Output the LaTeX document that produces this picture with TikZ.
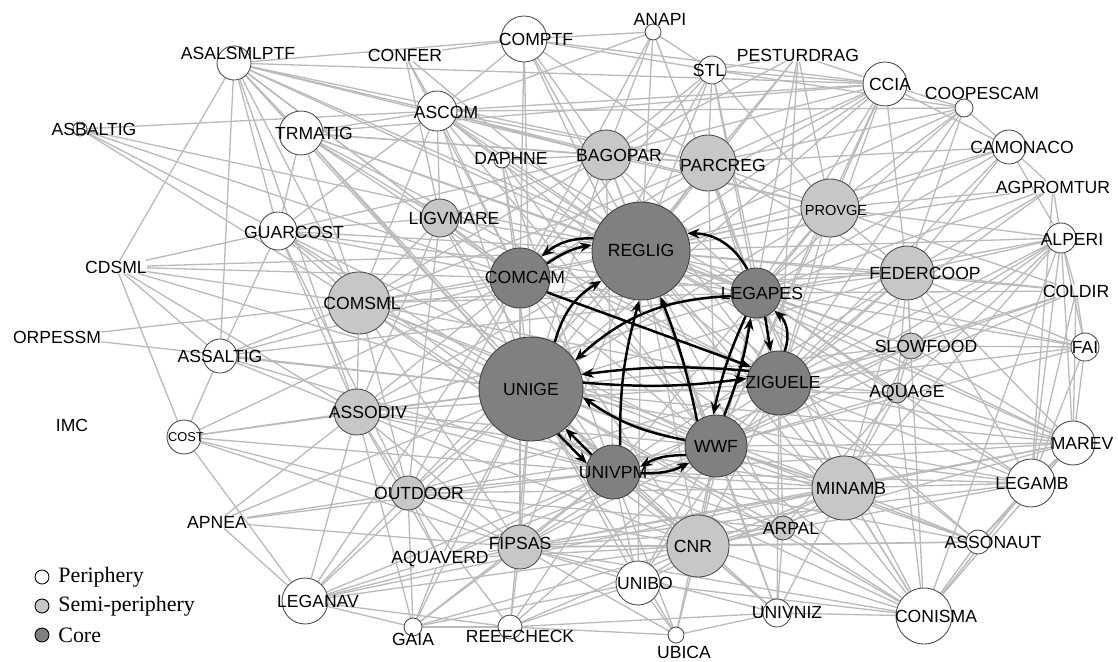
\documentclass[tikz,border=0pt]{standalone}
\usepackage{fontspec}
\setmainfont{Liberation Serif}
\setsansfont{Liberation Sans}
\usetikzlibrary{arrows.meta}
\usetikzlibrary{backgrounds}

\tikzset{
  peri/.style={draw=black!70, fill=white, circle, inner sep=0pt, line width=0.5pt},
  semi/.style={peri, fill=black!22},
  core/.style={peri, fill=black!50, draw=black!75},
  lbl/.style={font=\sffamily\fontsize{10}{12}\selectfont, inner sep=0pt, text=black},
  edge/.style={draw=black!27, line width=0.75pt},
  carrow/.style={-{Stealth[length=7pt,width=5.5pt]}, line width=1.4pt},
}

\begin{document}
\begin{tikzpicture}[x=0.02cm, y=-0.02cm]
\useasboundingbox (0,0) rectangle (1118,662);

% periphery
\node[peri, minimum size=0.68cm] at (234,63) (ASALSMLPTF) {};
\node[peri, minimum size=0.28cm] at (80,129) (ASBALTIG) {};
\node[peri, minimum size=0.88cm] at (301,133) (TRMATIG) {};
\node[peri, minimum size=0.92cm] at (524,39) (COMPTF) {};
\node[peri, minimum size=0.32cm] at (653,32) (ANAPI) {};
\node[peri, minimum size=0.56cm] at (712,70) (STL) {};
\node[peri, minimum size=0.88cm] at (885,84) (CCIA) {};
\node[peri, minimum size=0.36cm] at (964,108) (COOPESCAM) {};
\node[peri, minimum size=0.68cm] at (1009,147) (CAMONACO) {};
\node[peri, minimum size=0.60cm] at (1061,238) (ALPERI) {};
\node[peri, minimum size=0.80cm] at (437,111) (ASCOM) {};
\node[peri, minimum size=0.32cm] at (502,160) (DAPHNE) {};
\node[peri, minimum size=0.76cm] at (278,231) (GUARCOST) {};
\node[peri, minimum size=0.68cm] at (220,356) (ASSALTIG) {};
\node[peri, minimum size=0.68cm] at (184,437) (COST) {};
\node[peri, minimum size=0.56cm] at (1085,347) (FAI) {};
\node[peri, minimum size=0.88cm] at (1073,443) (MAREV) {};
\node[peri, minimum size=0.96cm] at (1031,483) (LEGAMB) {};
\node[peri, minimum size=0.48cm] at (978,542) (ASSONAUT) {};
\node[peri, minimum size=1.12cm] at (924,616) (CONISMA) {};
\node[peri, minimum size=0.56cm] at (777,613) (UNIVNIZ) {};
\node[peri, minimum size=0.32cm] at (676,635) (UBICA) {};
\node[peri, minimum size=0.88cm] at (638,583) (UNIBO) {};
\node[peri, minimum size=0.48cm] at (510,627) (REEFCHECK) {};
\node[peri, minimum size=0.36cm] at (413,627) (GAIA) {};
\node[peri, minimum size=0.92cm] at (305,601) (LEGANAV) {};

% semi-periphery
\node[semi, minimum size=1.00cm] at (606,155) (BAGOPAR) {};
\node[semi, minimum size=1.12cm] at (708,163) (PARCREG) {};
\node[semi, minimum size=1.16cm] at (830,208) (PROVGE) {};
\node[semi, minimum size=0.76cm] at (440,218) (LIGVMARE) {};
\node[semi, minimum size=1.08cm] at (907,273) (FEDERCOOP) {};
\node[semi, minimum size=1.24cm] at (359,303) (COMSML) {};
\node[semi, minimum size=0.92cm] at (357,412) (ASSODIV) {};
\node[semi, minimum size=0.52cm] at (911,346) (SLOWFOOD) {};
\node[semi, minimum size=0.40cm] at (897,393) (AQUAGE) {};
\node[semi, minimum size=0.68cm] at (408,493) (OUTDOOR) {};
\node[semi, minimum size=0.88cm] at (520,547) (FIPSAS) {};
\node[semi, minimum size=1.24cm] at (698,546) (CNR) {};
\node[semi, minimum size=1.28cm] at (844,488) (MINAMB) {};
\node[semi, minimum size=0.48cm] at (783,528) (ARPAL) {};

% core
\node[core, minimum size=1.96cm] at (641,251) (REGLIG) {};
\node[core, minimum size=1.20cm] at (520,278) (COMCAM) {};
\node[core, minimum size=1.00cm] at (756,293) (LEGAPES) {};
\node[core, minimum size=2.08cm] at (531,389) (UNIGE) {};
\node[core, minimum size=1.28cm] at (779,383) (ZIGUELE) {};
\node[core, minimum size=1.24cm] at (716,446) (WWF) {};
\node[core, minimum size=1.08cm] at (613,472) (UNIVPM) {};

% actors without circle
\node[lbl] at (405,55) (CONFER) {CONFER};
\node[lbl] at (798,55) (PESTURDRAG) {PESTURDRAG};
\node[lbl] at (1053,187) (AGPROMTUR) {AGPROMTUR};
\node[lbl] at (1076,291) (COLDIR) {COLDIR};
\node[lbl] at (116,267) (CDSML) {CDSML};
\node[lbl] at (57,337) (ORPESSM) {ORPESSM};
\node[lbl] at (72,425) (IMC) {IMC};
\node[lbl] at (217,522) (APNEA) {APNEA};
\node[lbl] at (440,559) (AQUAVERD) {AQUAVERD};

% ties
\begin{pgfonlayer}{background}
\foreach \s/\tl in {
REGLIG/{ASALSMLPTF,CONFER,COMPTF,ANAPI,STL,PESTURDRAG,CCIA,COOPESCAM,CAMONACO,AGPROMTUR,ALPERI,TRMATIG,ASCOM,DAPHNE,BAGOPAR,PARCREG,PROVGE,LIGVMARE,GUARCOST,FEDERCOOP,COLDIR,COMSML,SLOWFOOD,FAI,AQUAGE,ASSODIV,MAREV,MINAMB,LEGAMB,ARPAL,FIPSAS,CNR,UNIBO,CONISMA,UNIVNIZ,OUTDOOR,ASSONAUT,ASBALTIG,CDSML},
UNIGE/{ASALSMLPTF,TRMATIG,ASCOM,COMPTF,DAPHNE,BAGOPAR,PARCREG,LIGVMARE,GUARCOST,COMSML,ASSALTIG,CDSML,ASSODIV,COST,OUTDOOR,APNEA,FIPSAS,AQUAVERD,LEGANAV,GAIA,REEFCHECK,CNR,UNIBO,UBICA,ARPAL,MINAMB,CONISMA,UNIVNIZ,PROVGE,FEDERCOOP,SLOWFOOD,AQUAGE,MAREV,LEGAMB,CCIA,STL,ORPESSM,ASSONAUT},
ZIGUELE/{PARCREG,PROVGE,CCIA,COOPESCAM,CAMONACO,AGPROMTUR,ALPERI,FEDERCOOP,COLDIR,SLOWFOOD,FAI,AQUAGE,MAREV,LEGAMB,MINAMB,ASSONAUT,CONISMA,ARPAL,CNR,UNIVNIZ,BAGOPAR,PESTURDRAG,STL,ASSODIV,COMSML,FIPSAS,OUTDOOR,UNIBO,ASCOM,TRMATIG,LIGVMARE},
LEGAPES/{PARCREG,PROVGE,CCIA,COOPESCAM,CAMONACO,AGPROMTUR,ALPERI,FEDERCOOP,COLDIR,FAI,SLOWFOOD,MAREV,LEGAMB,MINAMB,CONISMA,CNR,BAGOPAR,PESTURDRAG,STL,ANAPI,ASCOM,TRMATIG,COMSML,ASSODIV,ASSALTIG,ASALSMLPTF,GUARCOST,AQUAGE},
WWF/{BAGOPAR,PARCREG,PROVGE,FEDERCOOP,SLOWFOOD,AQUAGE,MAREV,LEGAMB,MINAMB,ARPAL,CNR,UNIBO,UBICA,UNIVNIZ,CONISMA,ASSONAUT,FIPSAS,OUTDOOR,ASSODIV,COMSML,LIGVMARE,DAPHNE,ASCOM,COMPTF,ALPERI,COLDIR,FAI,CCIA,GUARCOST,AQUAVERD,REEFCHECK},
UNIVPM/{COMSML,ASSODIV,OUTDOOR,FIPSAS,AQUAVERD,LEGANAV,GAIA,REEFCHECK,UNIBO,UBICA,CNR,ARPAL,MINAMB,CONISMA,UNIVNIZ,ASSONAUT,LEGAMB,MAREV,BAGOPAR,DAPHNE,LIGVMARE,GUARCOST,ASSALTIG,COST,APNEA,TRMATIG,PROVGE,FEDERCOOP,SLOWFOOD},
COMCAM/{ASALSMLPTF,TRMATIG,ASCOM,CONFER,COMPTF,DAPHNE,BAGOPAR,PARCREG,LIGVMARE,GUARCOST,COMSML,ASSODIV,OUTDOOR,FIPSAS,CNR,MINAMB,PROVGE,FEDERCOOP,CCIA,ASBALTIG,ASSALTIG,CDSML,COST,LEGANAV,STL,ANAPI},
COMSML/{ASALSMLPTF,TRMATIG,GUARCOST,CDSML,ORPESSM,ASSALTIG,ASSODIV,LIGVMARE,ASCOM,FIPSAS,OUTDOOR,CNR,MINAMB,BAGOPAR,PARCREG,FEDERCOOP,ASBALTIG},
ASSODIV/{ASSALTIG,COST,CDSML,OUTDOOR,FIPSAS,LEGANAV,GAIA,AQUAVERD,APNEA,CNR,MINAMB,LIGVMARE,GUARCOST,ASALSMLPTF},
OUTDOOR/{COST,APNEA,LEGANAV,GAIA,AQUAVERD,FIPSAS,CNR,ARPAL,MINAMB,LIGVMARE,GUARCOST,REEFCHECK},
FIPSAS/{APNEA,LEGANAV,GAIA,REEFCHECK,AQUAVERD,UNIBO,UBICA,CNR,ARPAL,MINAMB,CONISMA,LEGAMB,MAREV,ASSONAUT,UNIVNIZ,COST},
CNR/{UNIBO,UBICA,REEFCHECK,UNIVNIZ,CONISMA,ASSONAUT,ARPAL,MINAMB,LEGAMB,MAREV,GAIA,LEGANAV,AQUAVERD},
MINAMB/{ARPAL,CONISMA,LEGAMB,MAREV,ASSONAUT,UNIVNIZ,UNIBO,FEDERCOOP,SLOWFOOD,AQUAGE,ALPERI,LEGANAV},
BAGOPAR/{ASALSMLPTF,TRMATIG,ASCOM,COMPTF,ANAPI,STL,PESTURDRAG,CCIA,DAPHNE,LIGVMARE,GUARCOST,PARCREG,PROVGE},
PARCREG/{COMPTF,STL,PESTURDRAG,CCIA,COOPESCAM,ASCOM,TRMATIG,PROVGE,FEDERCOOP,CAMONACO,ASALSMLPTF},
PROVGE/{CCIA,COOPESCAM,CAMONACO,AGPROMTUR,ALPERI,FEDERCOOP,PESTURDRAG,STL,COLDIR,ASCOM},
FEDERCOOP/{CCIA,COOPESCAM,CAMONACO,AGPROMTUR,ALPERI,COLDIR,FAI,SLOWFOOD,MAREV,LEGAMB,CONISMA,AQUAGE},
LIGVMARE/{ASALSMLPTF,TRMATIG,ASCOM,GUARCOST,CONFER},
ASALSMLPTF/{CDSML,ASSALTIG,GUARCOST,ASCOM,COMPTF,TRMATIG,CCIA},
ASBALTIG/{ASCOM,GUARCOST},
CDSML/{ASSALTIG,COST,GUARCOST},
ASSALTIG/{COST,GUARCOST},
COST/{LEGANAV},
APNEA/{LEGANAV},
LEGANAV/{GAIA,AQUAVERD,REEFCHECK},
GAIA/{REEFCHECK,AQUAVERD,UNIBO},
REEFCHECK/{UBICA,UNIBO,UNIVNIZ},
UBICA/{UNIBO,UNIVNIZ},
UNIVNIZ/{CONISMA,ARPAL},
CONISMA/{ASSONAUT,LEGAMB,MAREV,ARPAL,UNIBO,ALPERI},
ASSONAUT/{LEGAMB,MAREV},
LEGAMB/{MAREV,ALPERI,FAI,COLDIR,AGPROMTUR},
MAREV/{ALPERI,FAI,COLDIR,SLOWFOOD,AQUAGE},
FAI/{ALPERI,SLOWFOOD,COLDIR},
ALPERI/{AGPROMTUR,CAMONACO,COLDIR,SLOWFOOD,AQUAGE},
CAMONACO/{COOPESCAM,CCIA,AGPROMTUR},
COOPESCAM/{CCIA,STL,ASCOM},
CCIA/{STL,PESTURDRAG,ASCOM,COMPTF,TRMATIG},
STL/{ANAPI,PESTURDRAG,COMPTF},
ANAPI/{COMPTF,ASCOM},
COMPTF/{ASCOM,CONFER},
ASCOM/{CONFER,TRMATIG,GUARCOST,DAPHNE},
TRMATIG/{GUARCOST},
SLOWFOOD/{AQUAGE,COLDIR},
AQUAGE/{ARPAL,CONISMA}}
{
  \foreach \t in \tl {\draw[edge] (\s) -- (\t);}
}
\end{pgfonlayer}

% labels
\node[lbl] at (238,53) (tASALSMLPTF) {ASALSMLPTF};
\node[lbl] at (94,129) (tASBALTIG) {ASBALTIG};
\node[lbl] at (314,133) (tTRMATIG) {TRMATIG};
\node[lbl] at (536,39) (tCOMPTF) {COMPTF};
\node[lbl] at (660,19) (tANAPI) {ANAPI};
\node[lbl] at (709,70) (tSTL) {STL};
\node[lbl] at (890,84) (tCCIA) {CCIA};
\node[lbl] at (982,93) (tCOOPESCAM) {COOPESCAM};
\node[lbl] at (1022,147) (tCAMONACO) {CAMONACO};
\node[lbl] at (1072,239) (tALPERI) {ALPERI};
\node[lbl] at (446,112) (tASCOM) {ASCOM};
\node[lbl] at (511,158) (tDAPHNE) {DAPHNE};
\node[lbl] at (294,232) (tGUARCOST) {GUARCOST};
\node[lbl] at (220,356) (tASSALTIG) {ASSALTIG};
\node[lbl, font=\sffamily\fontsize{7.3}{9}\selectfont] at (186,437) (tCOST) {COST};
\node[lbl] at (1085,347) (tFAI) {FAI};
\node[lbl] at (1082,443) (tMAREV) {MAREV};
\node[lbl] at (1032,483) (tLEGAMB) {LEGAMB};
\node[lbl] at (993,542) (tASSONAUT) {ASSONAUT};
\node[lbl] at (936,616) (tCONISMA) {CONISMA};
\node[lbl] at (787,613) (tUNIVNIZ) {UNIVNIZ};
\node[lbl] at (684,652) (tUBICA) {UBICA};
\node[lbl] at (645,583) (tUNIBO) {UNIBO};
\node[lbl] at (520,636) (tREEFCHECK) {REEFCHECK};
\node[lbl] at (413,639) (tGAIA) {GAIA};
\node[lbl] at (318,601) (tLEGANAV) {LEGANAV};
\node[lbl] at (619,155) (tBAGOPAR) {BAGOPAR};
\node[lbl] at (723,165) (tPARCREG) {PARCREG};
\node[lbl, font=\sffamily\fontsize{8.3}{10}\selectfont] at (836,210) (tPROVGE) {PROVGE};
\node[lbl] at (454,218) (tLIGVMARE) {LIGVMARE};
\node[lbl] at (925,273) (tFEDERCOOP) {FEDERCOOP};
\node[lbl] at (362,303) (tCOMSML) {COMSML};
\node[lbl] at (368,412) (tASSODIV) {ASSODIV};
\node[lbl] at (926,346) (tSLOWFOOD) {SLOWFOOD};
\node[lbl] at (907,393) (tAQUAGE) {AQUAGE};
\node[lbl] at (419,493) (tOUTDOOR) {OUTDOOR};
\node[lbl] at (520,543) (tFIPSAS) {FIPSAS};
\node[lbl] at (693,546) (tCNR) {CNR};
\node[lbl] at (851,488) (tMINAMB) {MINAMB};
\node[lbl] at (791,528) (tARPAL) {ARPAL};
\node[lbl] at (641,250) (tREGLIG) {REGLIG};
\node[lbl] at (525,277) (tCOMCAM) {COMCAM};
\node[lbl] at (762,293) (tLEGAPES) {LEGAPES};
\node[lbl] at (531,389) (tUNIGE) {UNIGE};
\node[lbl] at (783,382) (tZIGUELE) {ZIGUELE};
\node[lbl] at (716,446) (tWWF) {WWF};
\node[lbl] at (613,473) (tUNIVPM) {UNIVPM};

% core ties
\draw[carrow] (REGLIG.165) to[bend right=20] (COMCAM.45);
\draw[carrow] (COMCAM.28) to[bend left=12] (REGLIG.173);
\draw[carrow] (LEGAPES.110) to[bend right=30] (REGLIG.21);
\draw[carrow] (UNIGE.63) to[bend left=22] (REGLIG.217);
\draw[carrow] (COMCAM.332) -- (ZIGUELE.150);
\draw[carrow] (UNIVPM.75) to[bend left=8] (REGLIG.268);
\draw[carrow] (WWF.127) to[bend right=5] (REGLIG.293);
\draw[carrow] (LEGAPES.187) to[bend right=20] (UNIGE.33);
\draw[carrow] (ZIGUELE.158) to[bend right=6] (UNIGE.16);
\draw[carrow] (UNIGE.7) to[bend right=6] (ZIGUELE.172);
\draw[carrow] (WWF.169) to[bend left=12] (UNIGE.351);
\draw[carrow] (UNIGE.301) -- (UNIVPM.162);
\draw[carrow] (UNIVPM.141) -- (UNIGE.311);
\draw[carrow] (WWF.197) to[bend right=15] (UNIVPM.11);
\draw[carrow] (UNIVPM.358) to[bend right=15] (WWF.212);
\draw[carrow] (LEGAPES.246) to[bend right=6] (WWF.95);
\draw[carrow] (WWF.75) to[bend right=6] (LEGAPES.258);
\draw[carrow] (LEGAPES.291) -- (ZIGUELE.105);
\draw[carrow] (ZIGUELE.80) to[bend right=35] (LEGAPES.316);

% legend
\node[peri, draw=black, minimum size=0.28cm] at (42,577) (kPeri) {};
\node[semi, draw=black, minimum size=0.28cm] at (42,606) (kSemi) {};
\node[core, draw=black, minimum size=0.28cm] at (42,635) (kCore) {};
\node[anchor=west, inner sep=0pt, font=\fontsize{12.5}{14}\selectfont] at (58,577) (tPeri) {Periphery};
\node[anchor=west, inner sep=0pt, font=\fontsize{12.5}{14}\selectfont] at (58,606) (tSemi) {Semi-periphery};
\node[anchor=west, inner sep=0pt, font=\fontsize{12.5}{14}\selectfont] at (58,635) (tCore) {Core};

\end{tikzpicture}
\end{document}
